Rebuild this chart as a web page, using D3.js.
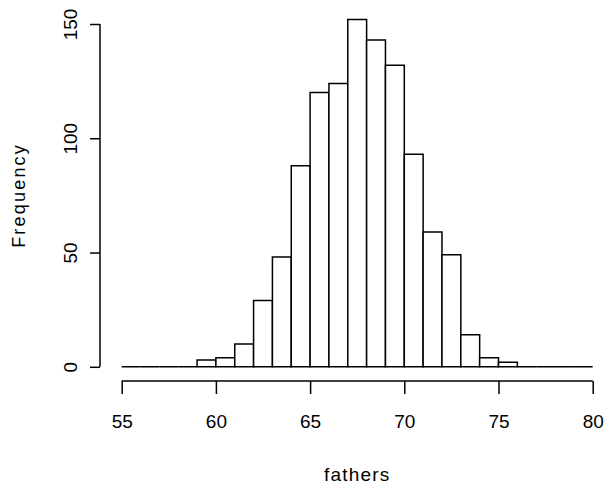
<!DOCTYPE html>
<html>
<head>
<meta charset="utf-8">
<script src="https://cdn.jsdelivr.net/npm/d3@7"></script>
<style>
  body { margin: 0; background: #fff; }
  text { font-family: "Liberation Sans", Arial, sans-serif; font-size: 19px; fill: #000; }
</style>
</head>
<body>
<div id="chart"></div>
<script>
// histogram of fathers' heights, breaks of width 1 from 55 to 80
const binStarts = d3.range(55, 80);
const counts = [0, 0, 0, 0, 3, 4, 10, 29, 48, 88, 120, 124, 152, 143, 132, 93, 59, 49, 14, 4, 2, 0, 0, 0, 0];
const xTicks = [55, 60, 65, 70, 75, 80];
const yTicks = [0, 50, 100, 150];

const width = 604, height = 491;

const x = d3.scaleLinear().domain([55, 80]).range([121.7, 592.7]);
const y = d3.scaleLinear().domain([0, 150]).range([366.8, 24]);

const svg = d3.select("#chart")
    .append("svg")
    .attr("width", width)
    .attr("height", height);

// bars as paths, so empty bins still show as a line on the baseline
svg.append("g")
    .selectAll("path")
    .data(binStarts.map((b, i) => ({x0: b, x1: b + 1, n: counts[i]})))
    .enter()
    .append("path")
    .attr("d", d => "M" + x(d.x0) + "," + y(0) + "V" + y(d.n) + "H" + x(d.x1) + "V" + y(0) + "Z")
    .style("fill", "white")
    .style("stroke", "black")
    .style("stroke-width", 1.5);

// x axis, R style: detached below the plot
let xAxis = svg.append("g")
    .attr("transform", "translate(0,381)")
    .call(d3.axisBottom(x).tickValues(xTicks).tickSize(13).tickPadding(21).tickSizeOuter(0));
xAxis.select(".domain").attr("d", "M" + x(55) + ",0H" + x(80)).style("stroke-width", 1.5);
xAxis.selectAll(".tick line").style("stroke-width", 1.5);
xAxis.selectAll("text").style("font-size", "19px").style("font-family", null);

// y axis, labels turned like R does
let yAxis = svg.append("g")
    .attr("transform", "translate(100,0)")
    .call(d3.axisLeft(y).tickValues(yTicks).tickSize(10).tickSizeOuter(0));
yAxis.select(".domain").attr("d", "M0," + y(0) + "V" + y(150)).style("stroke-width", 1.5);
yAxis.selectAll(".tick line").style("stroke-width", 1.5);
yAxis.selectAll("text")
    .attr("x", null).attr("dy", null)
    .attr("text-anchor", "middle")
    .attr("transform", "translate(-23,0) rotate(-90)")
    .style("font-size", "19px").style("font-family", null);

// axis titles
svg.append("text")
    .attr("x", (x(55) + x(80)) / 2)
    .attr("y", 481)
    .attr("text-anchor", "middle")
    .style("letter-spacing", "1.2px")
    .text("fathers");

svg.append("text")
    .attr("transform", "translate(25," + (y(0) + y(150)) / 2 + ") rotate(-90)")
    .attr("text-anchor", "middle")
    .style("font-size", "18px")
    .style("letter-spacing", "2.2px")
    .text("Frequency");
</script>
</body>
</html>
